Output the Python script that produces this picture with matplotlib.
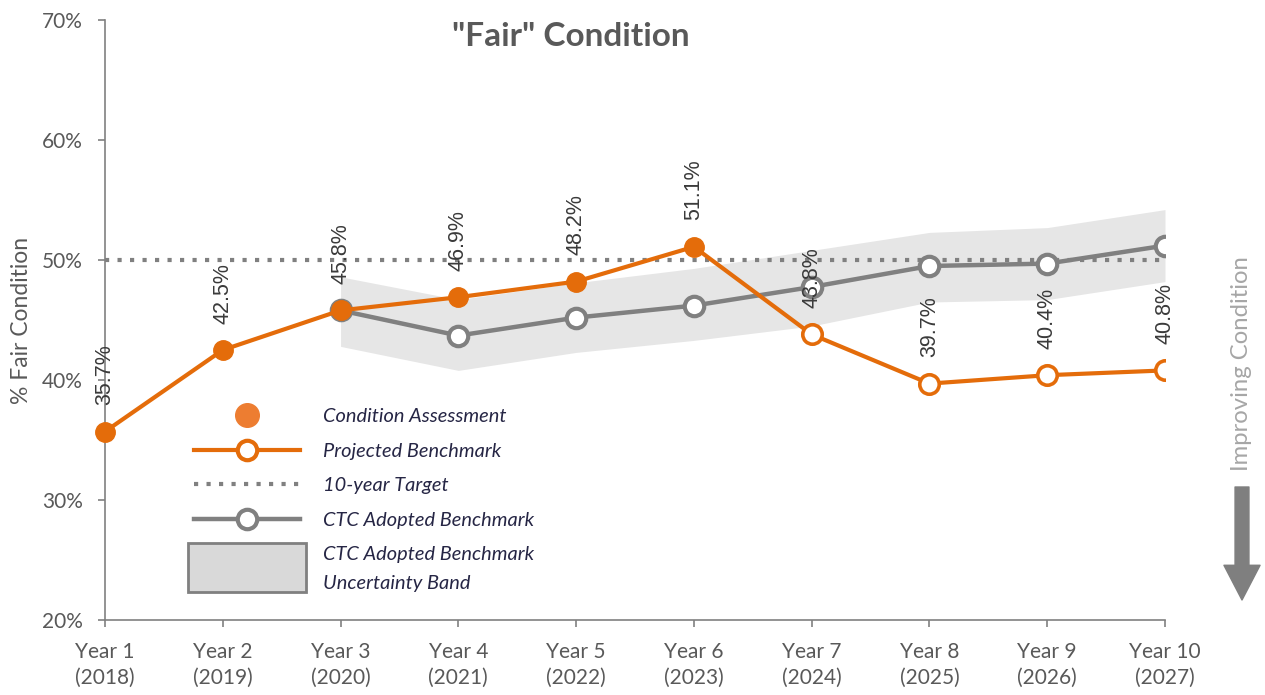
import matplotlib
matplotlib.use('Agg')
import matplotlib.pyplot as plt
from matplotlib.lines import Line2D
from matplotlib.patches import Rectangle, Patch, FancyArrowPatch
from matplotlib.legend_handler import HandlerPatch

plt.rcParams['font.family'] = ['Lato', 'DejaVu Sans']

# Данные
years = ['Year 1\n(2018)', 'Year 2\n(2019)', 'Year 3\n(2020)', 'Year 4\n(2021)', 'Year 5\n(2022)',
         'Year 6\n(2023)', 'Year 7\n(2024)', 'Year 8\n(2025)', 'Year 9\n(2026)', 'Year 10\n(2027)']
fair_pct = [35.7, 42.5, 45.8, 46.9, 48.2, 51.1, 43.8, 39.7, 40.4, 40.8]
n_assessed = 6  # первые 6 точек - фактическая оценка, дальше прогноз
ctc_years = [2, 3, 4, 5, 6, 7, 8, 9]
ctc_bench = [45.8, 43.7, 45.2, 46.2, 47.75, 49.5, 49.7, 51.2]
ctc_upper = [48.6, 46.7, 48.1, 49.3, 50.8, 52.3, 52.7, 54.2]
ctc_lower = [42.8, 40.8, 42.3, 43.3, 44.5, 46.5, 46.7, 48.2]
target = 50
yticks = [20, 30, 40, 50, 60, 70]

orange = '#E46C0A'
grey = '#808080'
txt = '#595959'

fig = plt.figure(figsize=(12.65, 6.95), dpi=100)
ax = fig.add_axes([105 / 1265, 75 / 695, 1060 / 1265, 600 / 695])

x = list(range(len(years)))

# Полоса неопределенности
ax.fill_between(ctc_years, ctc_lower, ctc_upper, color='#E6E6E6', lw=0, zorder=1)
# Целевой уровень
ax.plot([x[0], x[-1]], [target, target], color=grey, lw=3, ls=(0, (1, 2)), zorder=2)
# Принятый бенчмарк CTC
ax.plot(ctc_years, ctc_bench, color=grey, lw=3.2, marker='o', ms=14, mfc='white',
        mec=grey, mew=3, zorder=3)
# Оценка + прогноз
ax.plot(x, fair_pct, color=orange, lw=3, zorder=4)
ax.plot(x[:n_assessed], fair_pct[:n_assessed], ls='none', marker='o', ms=14,
        color=orange, zorder=5, clip_on=False)
ax.plot(x[n_assessed:], fair_pct[n_assessed:], ls='none', marker='o', ms=14, mfc='white',
        mec=orange, mew=2.6, zorder=5)

for xi, v in zip(x, fair_pct):
    ax.annotate(f'{v:.1f}%', (xi, v), xytext=(0, 19), textcoords='offset points',
                rotation=90, ha='center', va='bottom', fontsize=15.5, color='#3A3A3A',
                family=['Liberation Sans Narrow', 'Liberation Sans'], zorder=6)

ax.set_xlim(0, len(years) - 1)
ax.set_ylim(20, 70)
ax.set_xticks(x)
ax.set_xticklabels(years, linespacing=1.35)
ax.set_yticks(yticks)
ax.set_yticklabels([f'{t}%' for t in yticks])
ax.tick_params(axis='both', colors=grey, labelcolor=txt, labelsize=15, length=5, width=1.2)
ax.tick_params(axis='y', pad=11)
ax.tick_params(axis='x', pad=11)
for s in ['top', 'right']:
    ax.spines[s].set_visible(False)
for s in ['left', 'bottom']:
    ax.spines[s].set_color(grey)
    ax.spines[s].set_linewidth(1.2)

ax.set_ylabel('% Fair Condition', fontsize=16.5, color=txt, labelpad=7)
fig.text(571 / 1265, 1 - 36 / 695, '"Fair" Condition', ha='center', va='center',
         fontsize=24, fontweight='bold', color=txt)


# Легенда
def band_patch(legend, orig_handle, xdescent, ydescent, width, height, fontsize):
    return Rectangle((-xdescent - 4, -ydescent - 11.3), width + 8, 35)


handles = [
    Line2D([], [], ls='none', marker='o', ms=17, color='#ED7D31'),
    Line2D([], [], color=orange, lw=3, marker='o', ms=14, mfc='white', mec=orange, mew=3),
    Line2D([], [], color=grey, lw=3, ls=(0, (1, 2))),
    Line2D([], [], color=grey, lw=3.2, marker='o', ms=14, mfc='white', mec=grey, mew=3),
    Patch(facecolor='#D9D9D9', edgecolor=grey, lw=2),
]
labels = ['Condition Assessment', 'Projected Benchmark', '10-year Target',
          'CTC Adopted Benchmark', 'CTC Adopted Benchmark\nUncertainty Band']
leg = ax.legend(handles, labels, loc='upper left', bbox_to_anchor=(0.0745, 0.37),
                frameon=False, handlelength=5.3, handletextpad=1.15, labelspacing=0.88,
                borderpad=0, prop={'style': 'italic', 'size': 14.4}, labelcolor='#262645',
                handler_map={Patch: HandlerPatch(patch_func=band_patch)})
for t in leg.get_texts():
    t.set_linespacing(1.82)

# Стрелка справа
fig.text(1242 / 1265, 1 - 364 / 695, 'Improving Condition', rotation=90, ha='center',
         va='center', fontsize=17.2, color='#A6A6A6')
arrow = FancyArrowPatch((1242 / 1265, 1 - 487 / 695), (1242 / 1265, 1 - 600 / 695),
                        transform=fig.transFigure, arrowstyle='simple,tail_width=1,head_width=2.6,head_length=2.5',
                        mutation_scale=10, color='#7F7F7F', shrinkA=0, shrinkB=0)
fig.add_artist(arrow)

plt.savefig('out.png', dpi=100)
